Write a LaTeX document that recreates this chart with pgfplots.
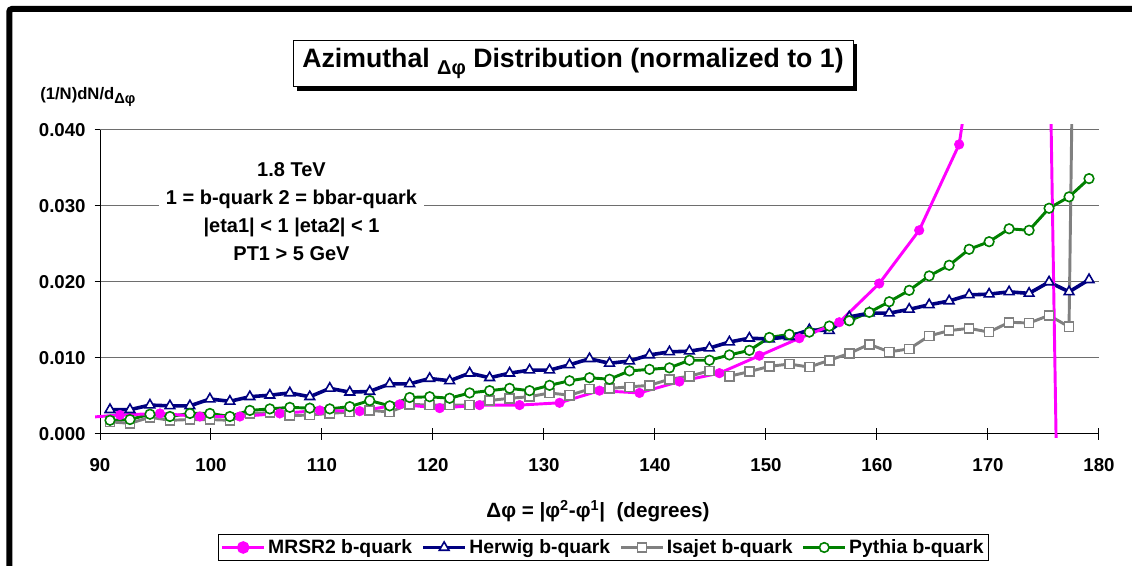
\documentclass[border=0pt]{standalone}
\usepackage{fontspec}
\setmainfont{Liberation Sans}
\usepackage{pgfplots}
\pgfplotsset{compat=1.18}
\usepackage{pgfplotstable}
\usetikzlibrary{shadows}

\definecolor{mrsr}{RGB}{255,0,255}
\definecolor{herwig}{RGB}{0,0,128}
\definecolor{isajet}{RGB}{128,128,128}
\definecolor{pythia}{RGB}{0,128,0}
\definecolor{gridc}{RGB}{110,110,110}

% x = bin centre (deg), herwig, isajet, pythia
\pgfplotstableread{
x     h      i      p
90.9  0.0032 0.0016 0.0018
92.7  0.0032 0.0014 0.0019
94.5  0.0038 0.0022 0.0026
96.3  0.0037 0.0018 0.0023
98.1  0.0037 0.0019 0.0027
99.9  0.0046 0.0019 0.0027
101.7 0.0043 0.0018 0.0023
103.5 0.0049 0.0027 0.0031
105.3 0.0051 0.0028 0.0033
107.1 0.0054 0.0024 0.0035
108.9 0.0049 0.0025 0.0034
110.7 0.0060 0.0027 0.0033
112.5 0.0055 0.0029 0.0036
114.3 0.0056 0.0031 0.0044
116.1 0.0066 0.0029 0.0037
117.9 0.0066 0.0039 0.0048
119.7 0.0073 0.0038 0.0049
121.5 0.0070 0.0038 0.0047
123.3 0.0080 0.0038 0.0054
125.1 0.0074 0.0044 0.0057
126.9 0.0080 0.0047 0.0060
128.7 0.0084 0.0049 0.0057
130.5 0.0084 0.0054 0.0064
132.3 0.0091 0.0051 0.0070
134.1 0.0099 0.0059 0.0074
135.9 0.0093 0.0060 0.0072
137.7 0.0096 0.0062 0.0083
139.5 0.0104 0.0064 0.0085
141.3 0.0108 0.0072 0.0087
143.1 0.0109 0.0076 0.0097
144.9 0.0113 0.0083 0.0097
146.7 0.0121 0.0076 0.0104
148.5 0.0126 0.0082 0.0110
150.3 0.0125 0.0089 0.0127
152.1 0.0128 0.0092 0.0131
153.9 0.0137 0.0088 0.0134
155.7 0.0136 0.0097 0.0142
157.5 0.0154 0.0106 0.0149
159.3 0.0159 0.0118 0.0160
161.1 0.0159 0.0108 0.0174
162.9 0.0164 0.0112 0.0189
164.7 0.0170 0.0129 0.0208
166.5 0.0175 0.0136 0.0222
168.3 0.0183 0.0139 0.0243
170.1 0.0184 0.0134 0.0253
171.9 0.0187 0.0147 0.0270
173.7 0.0185 0.0146 0.0268
175.5 0.0200 0.0156 0.0297
177.3 0.0187 0.0141 0.0312
179.1 0.0203 0.2100 0.0336
}\mainT

% MRSR2, coarser bins
\pgfplotstableread{
x     m
88.2  0.0021
91.8  0.0025
95.4  0.0027
99.0  0.0023
102.6 0.0023
106.2 0.0027
109.8 0.0031
113.4 0.0030
117.0 0.0039
120.6 0.0034
124.2 0.0038
127.8 0.0038
131.4 0.0041
135.0 0.0057
138.6 0.0054
142.2 0.0069
145.8 0.0080
149.4 0.0103
153.0 0.0126
156.6 0.0147
160.2 0.0198
163.8 0.0268
167.4 0.0381
171.0 0.0730
174.6 0.1400
178.2 -0.1900
}\mrsrT

\newcommand{\lbl}{\fontsize{14}{16}\selectfont\bfseries}

\begin{document}
\begin{tikzpicture}
\useasboundingbox (0,0) rectangle (849pt,424.5pt);

% frame axis: grid, ticks, tick labels
\begin{axis}[
    at={(75pt,99pt)}, anchor=south west,
    scale only axis, width=749.25pt, height=228pt,
    xmin=90, xmax=180, ymin=0, ymax=0.04,
    axis x line*=bottom, axis y line*=left,
    axis line style={-, black, line width=0.75pt},
    xtick={90,100,...,180},
    ytick={0,0.01,0.02,0.03,0.04},
    scaled y ticks=false,
    yticklabel style={xshift=-3pt, /pgf/number format/.cd, fixed, fixed zerofill, precision=3},
    /pgf/number format/assume math mode=true,
    tick label style={font=\lbl},
    xticklabel style={yshift=-12.5pt},
    xtick align=center, ytick align=outside,
    xtick style={black, line width=0.75pt, /pgfplots/major tick length=9pt},
    ytick style={black, line width=0.75pt, /pgfplots/major tick length=4pt},
    ymajorgrids,
    grid style={gridc, line width=0.75pt},
]
\end{axis}

\begin{scope}[x=0.75pt, y=-0.75pt, shift={(0pt,424.5pt)}]
  \draw[line width=4.5pt, rounded corners=2pt] (9.3,570) -- (9.3,9) -- (1140,9);
  \node[draw=black, line width=0.75pt, fill=white,
        minimum width=420pt, minimum height=35pt, inner sep=0pt,
        drop shadow={shadow xshift=3pt, shadow yshift=-3pt, fill=black, opacity=1}]
        at (573,63.5)
        {\fontsize{20}{24}\selectfont\bfseries Azimuthal \raisebox{-0.45ex}{\fontsize{15}{18}\selectfont Δφ} Distribution (normalized to 1)};
  \node[anchor=west, inner sep=0pt] at (40,97)
        {\fontsize{12.5}{15}\selectfont\bfseries (1/N)dN/d\raisebox{-0.4ex}{\fontsize{11}{13}\selectfont Δφ}};
  \node[fill=white, align=center, inner sep=5pt,
        font=\fontsize{15}{21}\selectfont\bfseries] at (291.5,212)
        {1.8 TeV\\ 1 = b-quark 2 = bbar-quark\\ |eta1| < 1 |eta2| < 1\\ PT1 > 5 GeV};
  \node[inner sep=0pt] at (598,511)
        {\fontsize{15.5}{18}\selectfont\bfseries Δφ = |φ\textsuperscript{2}-φ\textsuperscript{1}|\ \ (degrees)};
\end{scope}

% data axis, slightly larger clip region than the frame
\begin{axis}[
    at={(71.254pt,96.15pt)}, anchor=south west,
    scale only axis, width=752.996pt, height=234.84pt,
    xmin=89.55, xmax=180, ymin=-0.0005, ymax=0.0407,
    hide axis,
    legend columns=4,
    legend style={at={(0.5065,-0.3504)}, anchor=center, draw=black,
        line width=0.75pt, fill=white, inner sep=2pt,
        font=\fontsize{14.5}{17}\selectfont\bfseries,
        /tikz/every even column/.append style={column sep=5pt}},
    legend image code/.code={\draw[mark repeat=2,mark phase=2]
        plot coordinates {(0cm,0cm) (0.55cm,0cm) (1.1cm,0cm)};},
]
% lines
\addplot[forget plot, pythia, line width=2.2pt, no markers] table[x=x, y=p] {\mainT};
\addplot[forget plot, isajet, line width=2.2pt, no markers] table[x=x, y=i] {\mainT};
\addplot[forget plot, herwig, line width=2.7pt, no markers] table[x=x, y=h] {\mainT};
\addplot[forget plot, mrsr, line width=2.2pt, no markers] table[x=x, y=m] {\mrsrT};
% markers
\addplot[forget plot, only marks, mark=*, mark size=3.6pt, mark options={fill=mrsr, draw=mrsr}] table[x=x, y=m] {\mrsrT};
\addplot[forget plot, only marks, mark=triangle*, mark size=4.2pt, mark options={fill=white, draw=herwig, line width=1.2pt}] table[x=x, y=h] {\mainT};
\addplot[forget plot, only marks, mark=square*, mark size=3.4pt, mark options={fill=white, draw=isajet, line width=1.2pt}] table[x=x, y=i] {\mainT};
\addplot[forget plot, only marks, mark=*, mark size=3.6pt, mark options={fill=white, draw=pythia, line width=1.2pt}] table[x=x, y=p] {\mainT};
% legend
\addlegendimage{mrsr, line width=2.2pt, mark=*, mark size=3.6pt, mark options={fill=mrsr, draw=mrsr}}
\addlegendentry{MRSR2 b-quark}
\addlegendimage{herwig, line width=2.7pt, mark=triangle*, mark size=4.2pt, mark options={fill=white, draw=herwig, line width=1.2pt}}
\addlegendentry{Herwig b-quark}
\addlegendimage{isajet, line width=2.2pt, mark=square*, mark size=3.4pt, mark options={fill=white, draw=isajet, line width=1.2pt}}
\addlegendentry{Isajet b-quark}
\addlegendimage{pythia, line width=2.2pt, mark=*, mark size=3.6pt, mark options={fill=white, draw=pythia, line width=1.2pt}}
\addlegendentry{Pythia b-quark}
\end{axis}
\end{tikzpicture}
\end{document}
